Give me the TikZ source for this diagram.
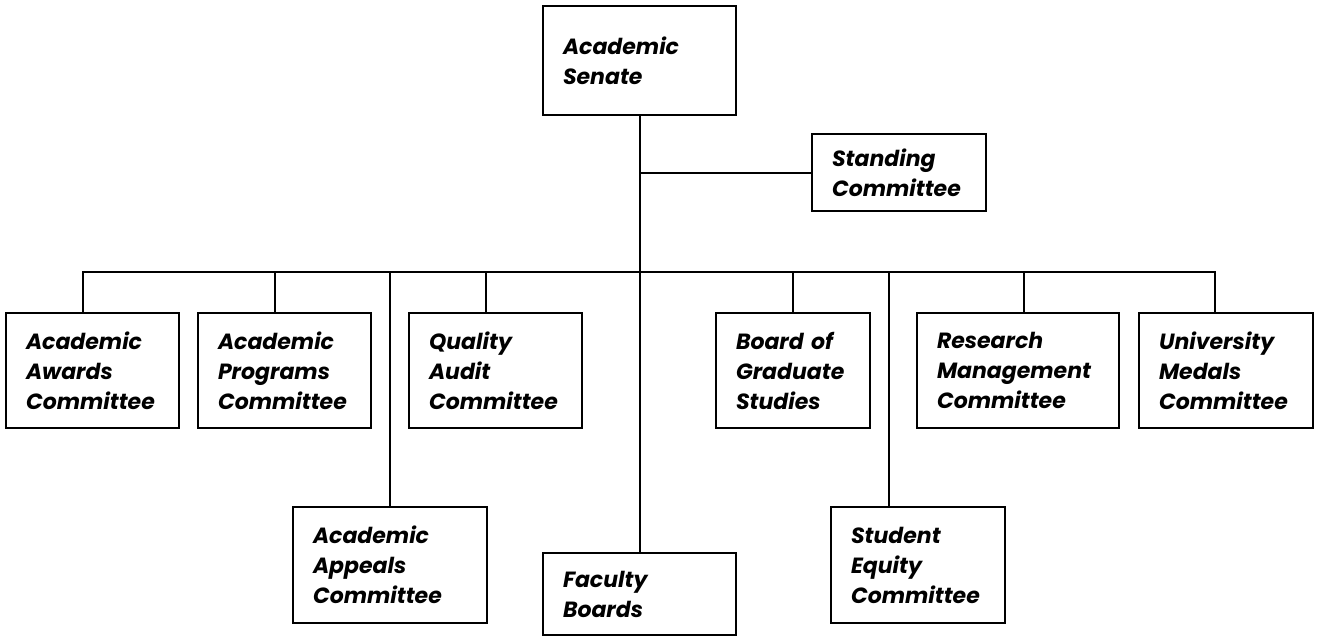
\documentclass[tikz,border=0pt]{standalone}
\usepackage{fontspec}
\setmainfont{Poppins}
\begin{document}
\begin{tikzpicture}[x=1pt,y=-1pt,
  box/.style={draw=black, line width=2pt, rectangle, outer sep=0pt,
    inner xsep=20pt, inner ysep=0pt, align=left,
    font=\fontsize{22}{30}\selectfont\bfseries\itshape},
  conn/.style={draw=black, line width=2pt}]
\useasboundingbox (0,0) rectangle (1317,637);
\tikzset{bx/.style 2 args={minimum width=#1pt, text width=#1pt-40pt, minimum height=#2pt}}
\node[box, bx={193}{109}] (senate) at (639.5,60.5) {Academic\\Senate};
\node[box, bx={174}{77}] (standing) at (899,172.5) {Standing\\Committee};
\node[box, bx={173}{115}] (awards) at (92.5,370.5) {Academic\\Awards\\Committee};
\node[box, bx={173}{115}] (programs) at (284.5,370.5) {Academic\\Programs\\Committee};
\node[box, bx={173}{115}] (quality) at (495.5,370.5) {Quality\\Audit\\Committee};
\node[box, bx={154}{115}] (board) at (793,370.5) {Board of\\Graduate\\Studies};
\node[box, bx={202}{115}] (research) at (1018,370.5) {Research\\Management\\Committee};
\node[box, bx={174}{115}] (medals) at (1226,370.5) {University\\Medals\\Committee};
\node[box, bx={194}{116}] (appeals) at (390,565) {Academic\\Appeals\\Committee};
\node[box, bx={193}{82}] (faculty) at (639.5,594) {Faculty\\Boards};
\node[box, bx={174}{116}] (equity) at (918,565) {Student\\Equity\\Committee};
\coordinate (cAw) at (83,272);
\coordinate (cPr) at (275,272);
\coordinate (cAp) at (390,272);
\coordinate (cQu) at (486,272);
\coordinate (cBo) at (793,272);
\coordinate (cEq) at (889,272);
\coordinate (cRe) at (1024,272);
\coordinate (cMe) at (1215,272);
\draw[conn] (senate.south) -- (senate.south |- faculty.north);
\draw[conn] (standing.west) -- (standing.west -| senate.south);
\draw[conn, line cap=rect] (cAw) -- (cMe);
\draw[conn] (cAw) -- (cAw |- awards.north);
\draw[conn] (cPr) -- (cPr |- programs.north);
\draw[conn] (cAp) -- (cAp |- appeals.north);
\draw[conn] (cQu) -- (cQu |- quality.north);
\draw[conn] (cBo) -- (cBo |- board.north);
\draw[conn] (cEq) -- (cEq |- equity.north);
\draw[conn] (cRe) -- (cRe |- research.north);
\draw[conn] (cMe) -- (cMe |- medals.north);
\end{tikzpicture}
\end{document}
